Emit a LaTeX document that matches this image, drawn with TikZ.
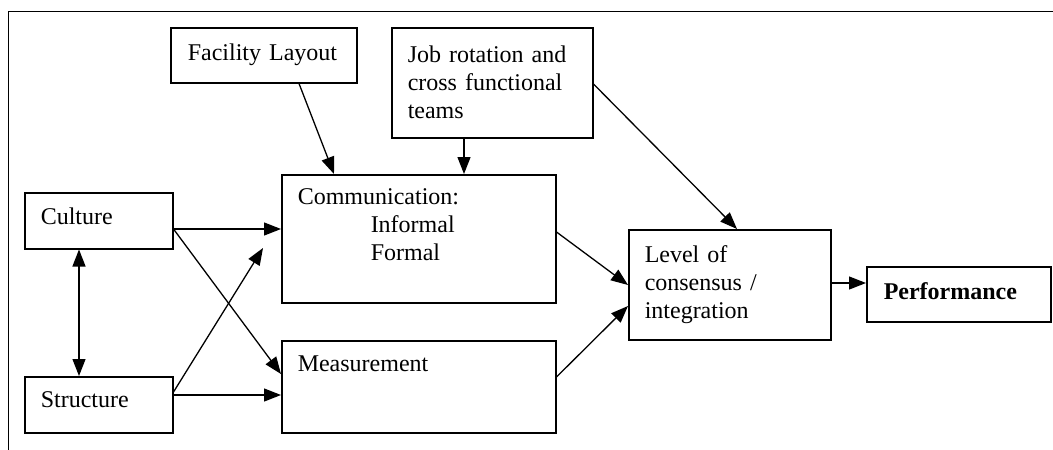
\documentclass[tikz,border=0pt]{standalone}
\usepackage{fontspec}
\setmainfont{Liberation Serif}
\usetikzlibrary{arrows.meta}

\begin{document}
\begin{tikzpicture}[x=1pt, y=-1pt,
  every node/.style={font=\fontsize{24}{28}\selectfont},
  box/.style={draw, line width=1.5pt, rectangle, anchor=north west,
    inner xsep=16pt, inner ysep=0pt, align=left},
  conn/.style={line width=1.3pt, -{Triangle[length=17pt,width=13pt]}},
  biconn/.style={line width=1.3pt, {Triangle[length=17pt,width=13pt]}-{Triangle[length=17pt,width=13pt]}}
]
\useasboundingbox (0,0) rectangle (1053,450);

% open frame along the top and the left side
\draw[line width=1.8pt] (8.5,450) -- (8.5,11.5) -- (1053,11.5);

% boxes
\node[box, text width=152pt, minimum height=55pt, inner xsep=17pt] (fac) at (170,27) {Facility Layout};
\node[box, text width=169pt, minimum height=110pt] (job) at (391,27)
  {Job rotation and\\cross functional\\teams};
\node[box, text width=116pt, minimum height=56pt, text depth=10pt] (cul) at (24,192) {Culture};
\node[box, text width=116pt, minimum height=56pt, text depth=10pt] (str) at (24,376) {Structure};
\node[box, text width=242pt, minimum height=128pt] (comm) at (281,174)
  {Communication:\\\hspace*{73pt}Informal\\\hspace*{73pt}Formal\\\mbox{}};
\node[box, text width=242pt, minimum height=92pt] (meas) at (281,340)
  {Measurement\\[18pt]\mbox{}};
\node[box, text width=170pt, minimum height=110pt] (lev) at (628,229)
  {Level of\\consensus /\\integration};
\node[box, text width=150pt, minimum height=55pt, inner xsep=17pt, text depth=7pt] (perf) at (866,266)
  {\bfseries Performance};

% free end of the arrow from Structure towards Communication
\coordinate (strtip) at (263,248);

% connectors
\draw[conn] ([xshift=129pt]fac.south west) -- ([xshift=53pt]comm.north west);
\draw[conn] ([xshift=73pt]job.south west) -- ([xshift=183pt]comm.north west);
\draw[conn] ([yshift=-57pt]job.north east) -- ([xshift=109pt]lev.north west);
\draw[conn] ([yshift=-37pt]cul.north east) -- ([yshift=-55pt]comm.north west);
\draw[conn] ([yshift=-37pt]cul.north east) -- ([yshift=-34pt]meas.north west);
\draw[conn] ([yshift=-16pt]str.north east) -- (strtip);
\draw[conn] ([yshift=-19pt]str.north east) -- ([yshift=-55pt]meas.north west);
\draw[biconn] ([xshift=55pt]cul.south west) -- ([xshift=55pt]str.north west);
\draw[conn] ([yshift=-58pt]comm.north east) -- ([yshift=-56pt]lev.north west);
\draw[conn] ([yshift=-37pt]meas.north east) -- ([yshift=-77pt]lev.north west);
\draw[conn] ([yshift=-54pt]lev.north east) -- ([yshift=-17pt]perf.north west);
\end{tikzpicture}
\end{document}
